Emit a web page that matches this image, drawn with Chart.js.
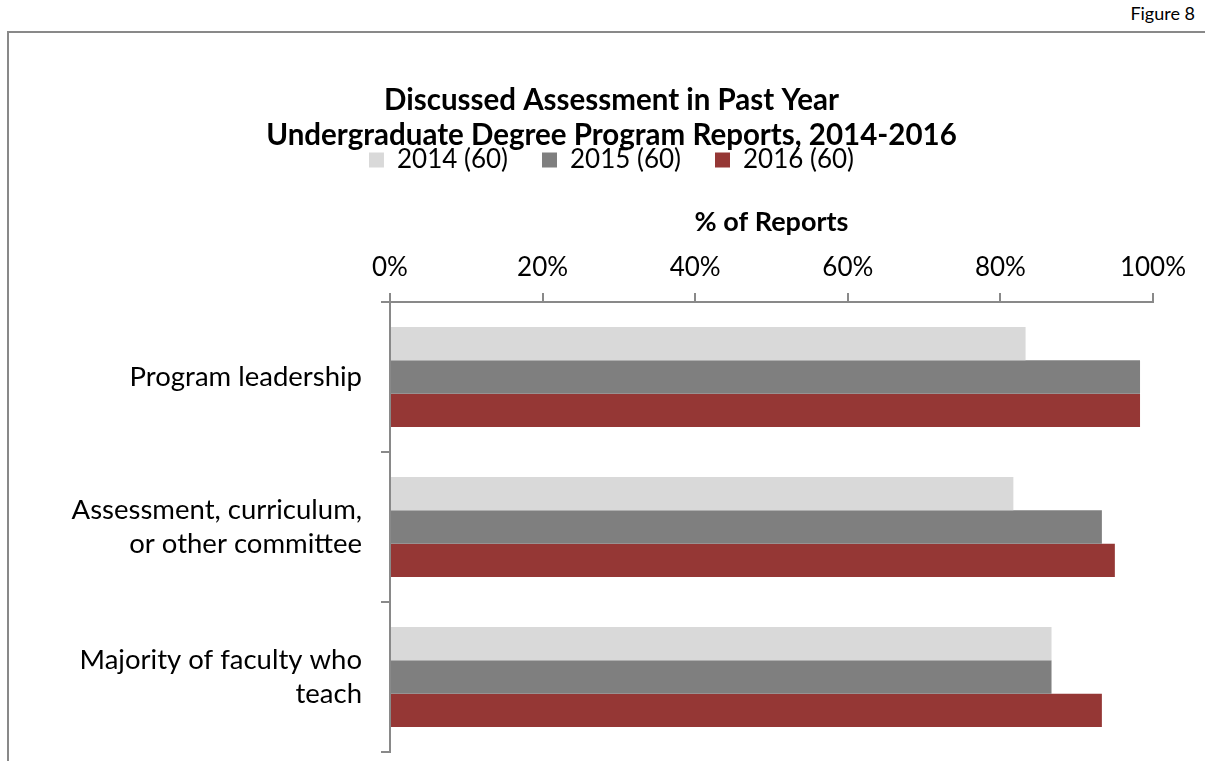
<!DOCTYPE html>
<html>
<head>
<meta charset="utf-8">
<script src="https://cdn.jsdelivr.net/npm/chart.js@4.4.0/dist/chart.umd.min.js"></script>
<style>
  html, body { margin: 0; padding: 0; background: #fff; overflow: hidden; }
  #frame { position: absolute; left: 7px; top: 31px; width: 1300px; height: 800px; border: 2px solid #898989; }
  #fig { position: absolute; right: 10px; top: 2px; font: 18px Lato, sans-serif; color: #000; }
  #wrap { position: absolute; left: 0; top: 0; width: 1205px; height: 761px; }
</style>
</head>
<body>
<div id="frame"></div>
<div id="fig">Figure 8</div>
<div id="wrap"><canvas id="chart"></canvas></div>
<script>
const categories = [
    "Program leadership",
    ["Assessment, curriculum,", "or other committee"],
    ["Majority of faculty who", "teach"]
];
const seriesNames = ["2014 (60)", "2015 (60)", "2016 (60)"];
const values2014 = [83.3, 81.7, 86.7];
const values2015 = [98.3, 93.3, 86.7];
const values2016 = [98.3, 95.0, 93.3];
const xTicks = [0, 20, 40, 60, 80, 100];
const colors = ["#D9D9D9", "#7F7F7F", "#953735"];

Chart.defaults.font.family = "Lato, 'Open Sans', sans-serif";
Chart.defaults.color = "#000";

const axisGray = "#898989";

const ctx = document.getElementById("chart").getContext("2d");
new Chart(ctx, {
    type: "bar",
    data: {
        labels: categories,
        datasets: [values2014, values2015, values2016].map((vals, i) => ({
            label: seriesNames[i],
            data: vals,
            backgroundColor: colors[i],
            borderWidth: 0,
            barPercentage: 1,
            categoryPercentage: 0.667
        }))
    },
    options: {
        indexAxis: "y",
        responsive: true,
        maintainAspectRatio: false,
        animation: false,
        // left padding shifts title/legend centre a little to the right
        layout: { padding: { left: 70, right: 52, top: 0, bottom: 9 } },
        plugins: {
            title: {
                display: true,
                text: ["Discussed Assessment in Past Year", "Undergraduate Degree Program Reports, 2014-2016"],
                font: { size: 29.5, weight: "bold", lineHeight: "35px" },
                color: "#000",
                padding: { top: 82.5, bottom: -39.5 }
            },
            legend: {
                display: true,
                position: "top",
                labels: {
                    boxWidth: 15,
                    boxHeight: 15,
                    padding: 34,
                    font: { size: 26 },
                    color: "#000"
                }
            },
            tooltip: { enabled: false }
        },
        scales: {
            x: {
                position: "top",
                min: 0,
                max: 100,
                afterFit: function (scale) {
                    scale.height = 119;
                    scale.paddingLeft = 0;
                    scale.paddingRight = 0;
                },
                afterBuildTicks: function (scale) {
                    scale.ticks = xTicks.map(v => ({ value: v }));
                },
                ticks: {
                    padding: 9.4,
                    font: { size: 26 },
                    color: "#000",
                    callback: v => v + "%"
                },
                grid: {
                    drawOnChartArea: false,
                    drawTicks: true,
                    tickLength: 9,
                    color: axisGray,
                    lineWidth: 2
                },
                border: { display: true, color: axisGray, width: 2 },
                title: {
                    display: true,
                    text: "% of Reports",
                    font: { size: 27, weight: "bold" },
                    color: "#000",
                    padding: { top: 22.8, bottom: 0 }
                }
            },
            y: {
                afterFit: function (scale) {
                    scale.width = 320;
                    scale.paddingTop = 0;
                    scale.paddingBottom = 0;
                },
                ticks: {
                    padding: 19,
                    font: { size: 27.5, lineHeight: 1.236 },
                    color: "#000"
                },
                grid: {
                    offset: true,
                    drawOnChartArea: false,
                    drawTicks: true,
                    tickLength: 9,
                    color: axisGray,
                    lineWidth: 2
                },
                border: { display: true, color: axisGray, width: 2 }
            }
        }
    }
});
</script>
</body>
</html>
